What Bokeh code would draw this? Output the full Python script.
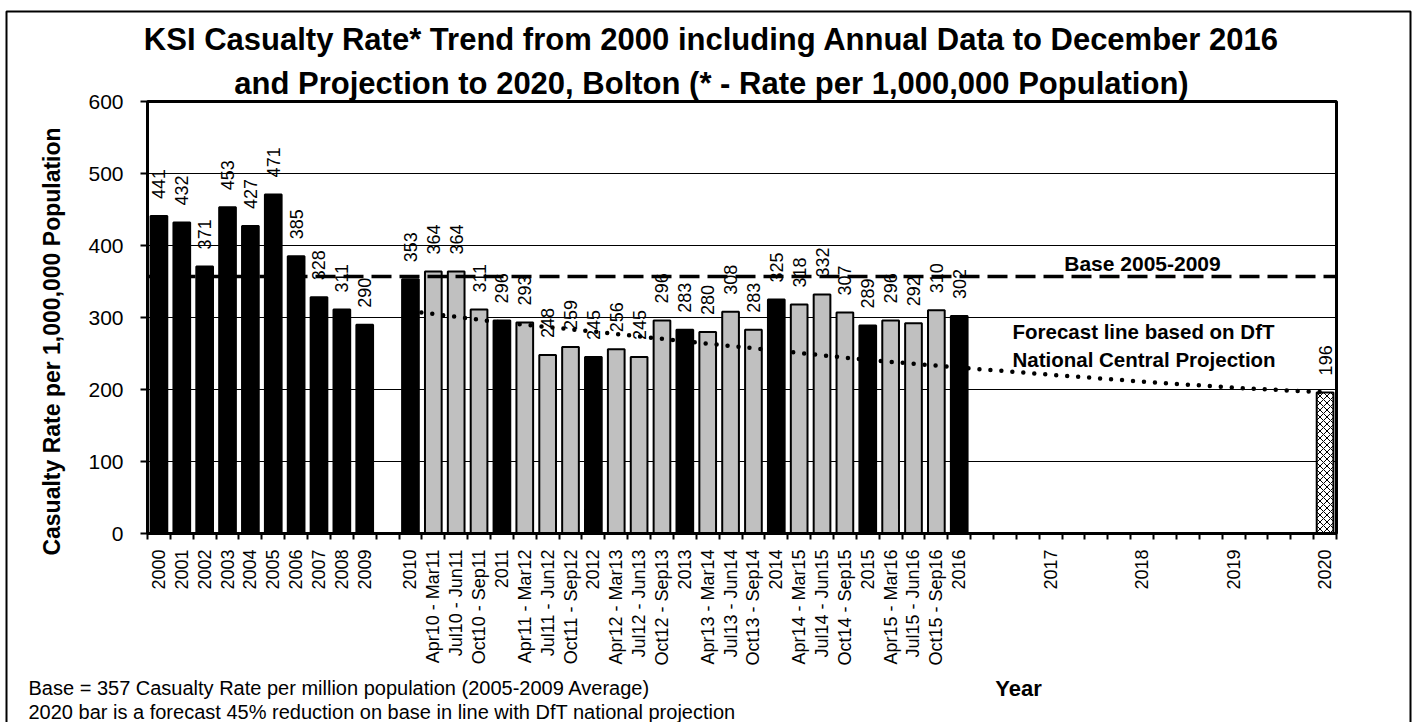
import math
from bokeh.plotting import figure
from bokeh.models import FixedTicker, Label, Range1d, ColumnDataSource
from bokeh.embed import file_html
from bokeh.resources import INLINE
from bokeh.core.properties import value

# ---------------- data ----------------
categories = (
    ["2000", "2001", "2002", "2003", "2004", "2005", "2006", "2007", "2008", "2009", "",
     "2010", "Apr10 - Mar11", "Jul10 - Jun11", "Oct10 - Sep11",
     "2011", "Apr11 - Mar12", "Jul11 - Jun12", "Oct11 - Sep12",
     "2012", "Apr12 - Mar13", "Jul12 - Jun13", "Oct12 - Sep13",
     "2013", "Apr13 - Mar14", "Jul13 - Jun14", "Oct13 - Sep14",
     "2014", "Apr14 - Mar15", "Jul14 - Jun15", "Oct14 - Sep15",
     "2015", "Apr15 - Mar16", "Jul15 - Jun16", "Oct15 - Sep16",
     "2016", "", "", "", "2017", "", "", "", "2018", "", "", "", "2019", "", "", "", "2020"]
)
annual_years = ["2000", "2001", "2002", "2003", "2004", "2005", "2006", "2007", "2008", "2009",
                "2010", "2011", "2012", "2013", "2014", "2015", "2016"]
annual_values = [441, 432, 371, 453, 427, 471, 385, 328, 311, 290,
                 353, 296, 245, 283, 325, 289, 302]
rolling_periods = ["Apr10 - Mar11", "Jul10 - Jun11", "Oct10 - Sep11",
                   "Apr11 - Mar12", "Jul11 - Jun12", "Oct11 - Sep12",
                   "Apr12 - Mar13", "Jul12 - Jun13", "Oct12 - Sep13",
                   "Apr13 - Mar14", "Jul13 - Jun14", "Oct13 - Sep14",
                   "Apr14 - Mar15", "Jul14 - Jun15", "Oct14 - Sep15",
                   "Apr15 - Mar16", "Jul15 - Jun16", "Oct15 - Sep16"]
rolling_values = [364, 364, 311, 293, 248, 259, 256, 245, 296, 280, 308, 283,
                  318, 332, 307, 296, 292, 310]
forecast_target_year = ["2020"]
forecast_target_value = [196]
forecast_line_years = ["2010", "2011", "2012", "2013", "2014", "2015", "2016",
                       "2017", "2018", "2019", "2020"]
forecast_line_values = [309, 293, 280.5, 267, 254, 241, 230.5, 220.5, 211, 202.5, 196]
base_value = 357
y_ticks = [0, 100, 200, 300, 400, 500, 600]

title_lines = ["KSI Casualty Rate* Trend from 2000 including Annual Data to December 2016",
               "and Projection to 2020, Bolton (* - Rate per 1,000,000 Population)"]
y_title = "Casualty Rate per 1,000,000 Population"
x_title = "Year"
footnotes = ["Base = 357 Casualty Rate per million population (2005-2009 Average)",
             "2020 bar is a forecast 45% reduction on base in line with DfT national  projection"]

# ---------------- layout helpers ----------------
W, H = 1417, 722
FL, FT, FR, FB = 147, 101, 1336, 533      # frame edges in page px
N = len(categories)
Y0, Y1 = 0, 600

def xd(px):
    return (px - FL) / ((FR - FL) / N) - 0.5

def yd(py):
    return (FB - py) / ((FB - FT) / (Y1 - Y0))

idx = {c: i for i, c in enumerate(categories) if c}

FONT = "Liberation Sans"

p = figure(width=W, height=H, output_backend="svg", toolbar_location=None,
           x_range=Range1d(-0.5, N - 0.5), y_range=Range1d(Y0, Y1),
           min_border_left=FL, min_border_top=FT,
           min_border_right=W - FR, min_border_bottom=H - FB)
p.outline_line_color = "black"
p.outline_line_width = 3
p.background_fill_color = "white"
p.border_fill_color = "white"

# grid
p.xgrid.visible = False
p.ygrid.ticker = FixedTicker(ticks=y_ticks)
p.ygrid.grid_line_color = "black"
p.ygrid.grid_line_width = 1

# y axis
p.yaxis.ticker = FixedTicker(ticks=y_ticks)
p.yaxis.axis_line_width = 3
p.yaxis.major_tick_out = 7
p.yaxis.major_tick_in = 0
p.yaxis.major_tick_line_width = 2
p.yaxis.minor_tick_line_color = None
p.yaxis.major_label_standoff = 17
p.yaxis.major_label_text_font = FONT
p.yaxis.major_label_text_font_size = "21px"
p.yaxis.major_label_text_color = "black"

# x axis: labels at category centres, ticks at category boundaries
p.xaxis.ticker = FixedTicker(ticks=list(range(N)), minor_ticks=[i - 0.5 for i in range(N + 1)])
p.xaxis.major_label_overrides = {i: c for i, c in enumerate(categories)}
p.xaxis.major_label_orientation = math.pi / 2
p.xaxis.axis_line_width = 3
p.xaxis.major_tick_out = 0
p.xaxis.major_tick_in = 0
p.xaxis.minor_tick_out = 6
p.xaxis.minor_tick_in = 0
p.xaxis.minor_tick_line_width = 2
p.xaxis.major_label_standoff = 10
p.xaxis.major_label_text_font = FONT
p.xaxis.major_label_text_font_size = "18px"
p.xaxis.major_label_text_color = "black"

def inner_label(px, py, text, size, align="center"):
    p.add_layout(Label(x=xd(px), y=yd(py), text=text, text_font=FONT,
                       text_font_size=f"{size}px", text_font_style="bold",
                       text_align=align, text_baseline="middle", text_color="black"))

inner_label(1142, 263, "Base 2005-2009", 21)
inner_label(1012, 331, "Forecast line based on DfT", 20.5, align="left")
inner_label(1012, 359, "National Central Projection", 20.5, align="left")

# bars
annual_src = ColumnDataSource(dict(x=[idx[c] for c in annual_years], top=annual_values,
                                   lab=[str(v) for v in annual_values]))
rolling_src = ColumnDataSource(dict(x=[idx[c] for c in rolling_periods], top=rolling_values,
                                    lab=[str(v) for v in rolling_values]))
fc_src = ColumnDataSource(dict(x=[idx[c] for c in forecast_target_year], top=forecast_target_value,
                               lab=[str(v) for v in forecast_target_value]))

BW = 0.73
p.vbar(x="x", top="top", width=BW, source=annual_src, fill_color="black",
       line_color="black", line_width=2)
p.vbar(x="x", top="top", width=BW, source=rolling_src, fill_color="#c0c0c0",
       line_color="black", line_width=2)
p.vbar(x="x", top="top", width=BW, source=fc_src, fill_color="white",
       hatch_pattern="diagonal_cross", hatch_color="black", hatch_scale=7, hatch_weight=1,
       line_color="black", line_width=2)

# base dashed line (a glyph across the whole x range, drawn over the bars)
p.line(x=[p.x_range.start, p.x_range.end], y=[base_value, base_value], line_color="black",
       line_width=3.5, line_dash="20 8")

# forecast dotted line
p.line(x=[idx[c] for c in forecast_line_years], y=forecast_line_values,
       line_color="black", line_width=4.5, line_dash="0 11", line_cap="round")

# value labels
for src in (annual_src, rolling_src, fc_src):
    p.text(x="x", y="top", text="lab", source=src, angle=math.pi / 2,
           text_align="left", text_baseline="middle", y_offset=-17,
           text_font=value(FONT), text_font_size="18px", text_color="black")

# ---------------- transparent overlay figure (separate root) for outer texts ----------------
ov = figure(width=W, height=H, output_backend="svg", toolbar_location=None,
            x_range=Range1d(0, W), y_range=Range1d(H, 0),
            x_axis_type=None, y_axis_type=None, min_border=0,
            styles={"position": "absolute", "left": "0px", "top": "0px",
                    "pointer-events": "none", "z-index": "5"})
ov.background_fill_color = None
ov.border_fill_color = None
ov.outline_line_color = None

def olabel(px, py, text, size, bold=False, align="center", angle=0.0):
    ov.add_layout(Label(x=px, y=py, text=text, text_font=FONT,
                        text_font_size=f"{size}px",
                        text_font_style="bold" if bold else "normal",
                        text_align=align, text_baseline="middle", angle=angle,
                        text_color="black"))

olabel(711, 39, title_lines[0], 31, True)
olabel(711, 83, title_lines[1], 31, True)
olabel(51, 341, y_title, 23, True, angle=math.pi / 2)
olabel(1018, 688, x_title, 22, True)
olabel(28, 687, footnotes[0], 20, align="left")
olabel(28, 711, footnotes[1], 20, align="left")

# outer chart border (open at the bottom, as in the cropped original)
ov.line(x=[6, 6, 1410, 1410], y=[H, 11, 11, H], line_color="black", line_width=2)

open("out.html", "w").write(file_html([p, ov], INLINE))
